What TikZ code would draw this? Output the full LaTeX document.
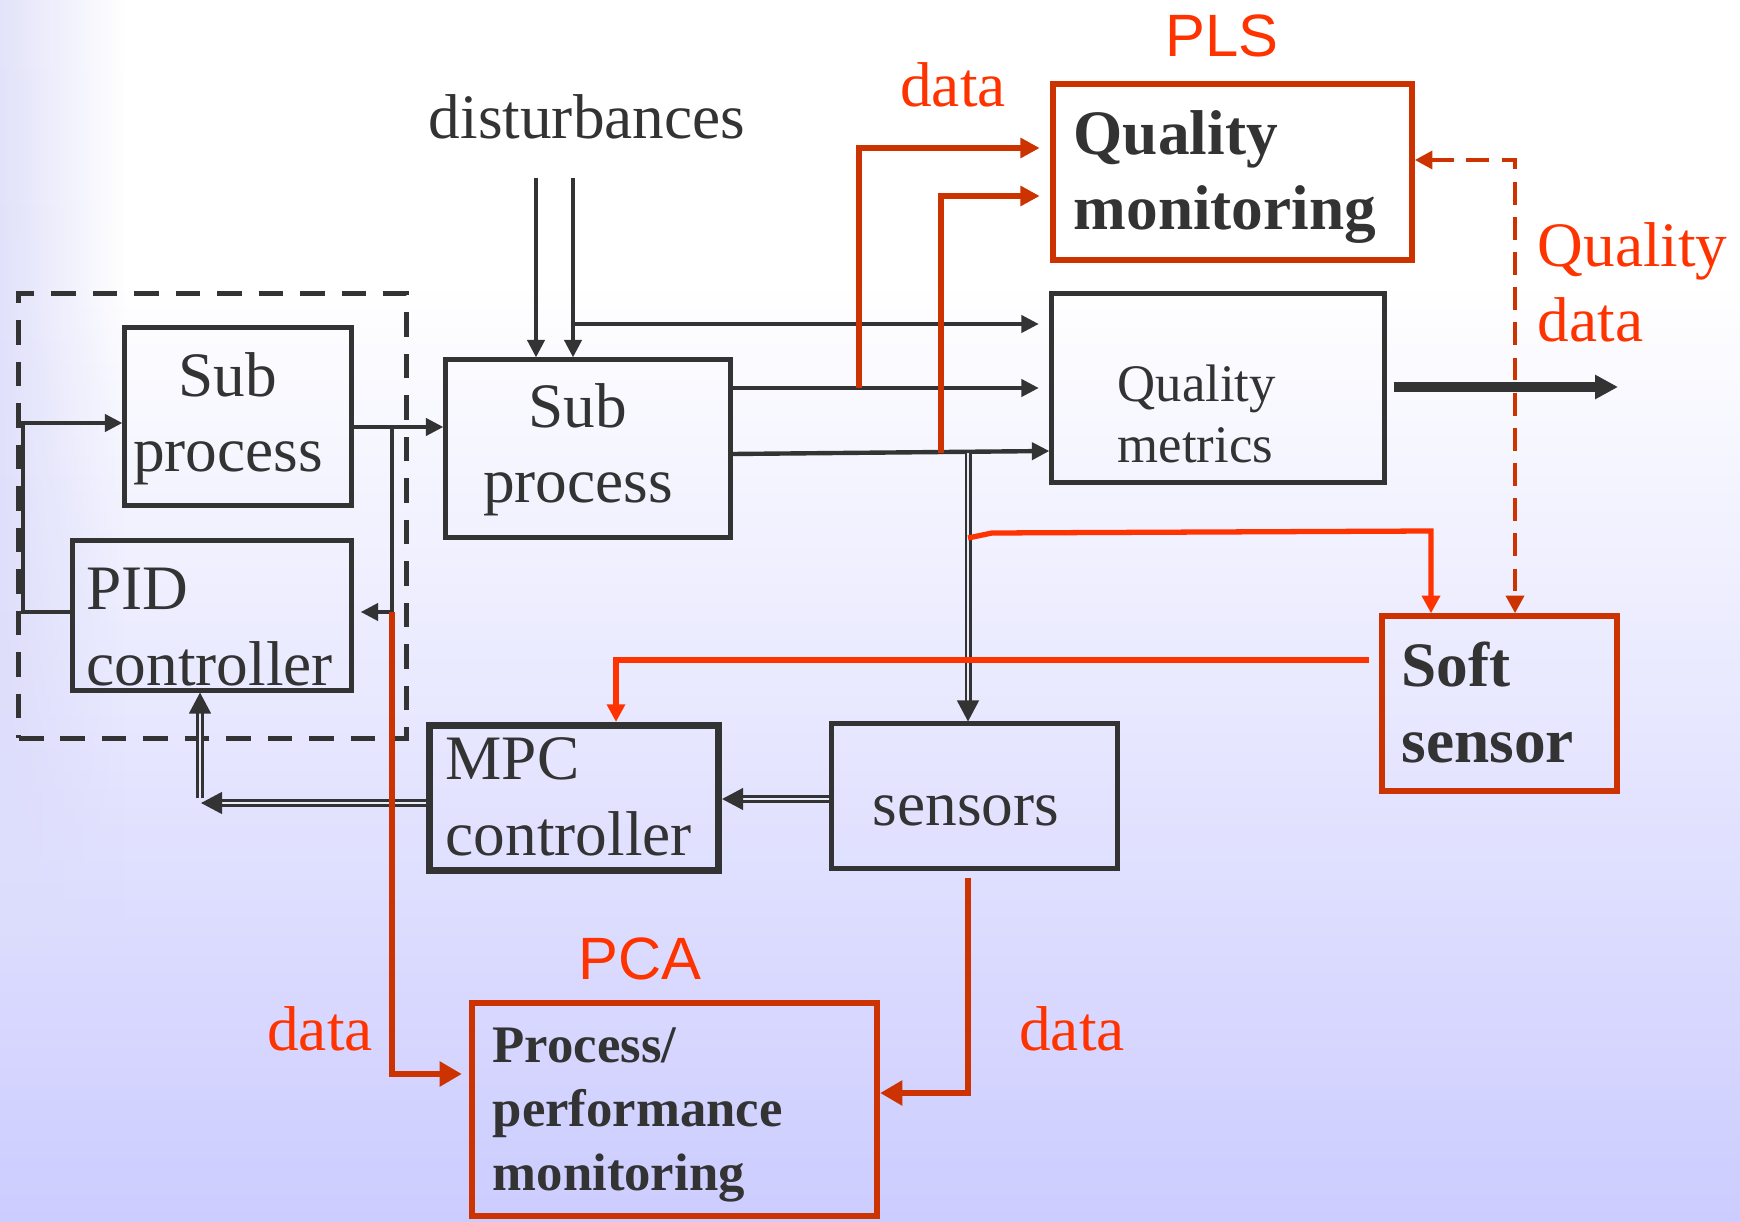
\documentclass[tikz,border=0pt]{standalone}
\usepackage{fontspec}
\setmainfont{Liberation Serif}
\newfontfamily\labelsans{Liberation Sans}
\usetikzlibrary{arrows.meta,fadings}

\definecolor{inkgray}{HTML}{333333}
\definecolor{boxred}{HTML}{CC3300}
\definecolor{labelred}{HTML}{FF3300}
\definecolor{bgbottom}{HTML}{CCCCFF}
\definecolor{bgleft}{HTML}{E3E3FA}
\definecolor{bgleftlow}{HTML}{DCDCFC}
\definecolor{dblfill}{HTML}{EBEBFE}

\tikzfading[name=fade to right, left color=transparent!0, right color=transparent!100]

\tikzset{
  blk/.style={draw=inkgray, line width=1.4pt, inner sep=0pt},
  redblk/.style={draw=boxred, line width=1.5pt, inner sep=0pt},
  txt/.style={inner sep=0pt, text=inkgray, align=left, anchor=base west,
    font=\fontsize{18}{21.6}\selectfont},
  redtxt/.style={inner sep=0pt, text=labelred, align=left, anchor=base,
    font=\fontsize{18}{21.6}\selectfont},
  wire/.style={draw=inkgray, line width=1.25pt, -{Triangle[length=5pt,width=4.8pt]}},
  dblwire/.style={draw=inkgray, line width=0.6pt, double=dblfill, double distance=0.8pt,
    -{Triangle[length=6pt,width=6.2pt]}},
  datawire/.style={draw=boxred, line width=1.6pt, -{Triangle[length=5.5pt,width=5.5pt]}},
  softwire/.style={draw=labelred, line width=1.5pt, -{Triangle[length=5pt,width=5pt]}}
}

\begin{document}
\begin{tikzpicture}[x=0.01cm, y=-0.01cm]
  % background
  \fill[white] (0,0) rectangle (1740,1222);
  \shade[top color=white, bottom color=bgbottom] (0,280) rectangle (1740,1222);
  \shade[top color=bgleft, bottom color=bgleftlow, path fading=fade to right] (0,0) rectangle (125,950);
  \useasboundingbox (0,0) rectangle (1740,1222);

  % boxes
  \node [draw=inkgray, line width=1.4pt, dash pattern=on 7pt off 4.8pt, inner sep=0pt,
    minimum width=3.87cm, minimum height=4.44cm] (Local_loop) at (212.5,516) {};
  \node [blk, minimum width=2.26cm, minimum height=1.77cm] (SubA_node) at (238,416.5) {};
  \node [blk, minimum width=2.78cm, minimum height=1.49cm] (PID_node) at (212,615.5) {};
  \node [blk, minimum width=2.84cm, minimum height=1.77cm] (SubB_node) at (588,448.5) {};
  \node [blk, minimum width=3.32cm, minimum height=1.88cm] (Metrics_node) at (1218,388) {};
  \node [blk, minimum width=2.85cm, minimum height=1.44cm] (Sensors_node) at (974.5,796) {};
  \node [blk, line width=1.7pt, minimum width=2.90cm, minimum height=1.46cm] (MPC_node) at (574,798) {};
  \draw [inkgray, line width=0.6pt] ([shift={(6,6)}]MPC_node.north west) rectangle ([shift={(-6,-6)}]MPC_node.south east);
  \node [redblk, minimum width=3.59cm, minimum height=1.76cm] (QMon_node) at (1232.5,172) {};
  \node [redblk, minimum width=2.35cm, minimum height=1.75cm] (Soft_node) at (1499.5,703.5) {};
  \node [redblk, line width=1.7pt, minimum width=4.05cm, minimum height=2.13cm] (PPM_node) at (674.5,1109.5) {};

  % texts (base = last line)
  \node [txt, anchor=base] (Dist_text) at (587,139) {disturbances};
  \node [txt, anchor=base, align=center] (SubA_text) at (228,472) {Sub\\process};
  \node [txt, anchor=base, align=center] (SubB_text) at (578,503) {Sub\\process};
  \node [txt] (PID_text) at (86,685) {PID\\controller};
  \node [txt] (MPC_text) at (445,855) {MPC\\controller};
  \node [txt] (Sensors_text) at (872,825) {sensors};
  \node [txt, font=\fontsize{15}{17.4}\selectfont] (Metrics_text) at (1117,463) {Quality\\metrics};
  \node [txt, font=\fontsize{18}{21.6}\selectfont\bfseries] (QMon_text) at (1073,230) {Quality\\monitoring};
  \node [txt, font=\fontsize{18}{21.4}\selectfont\bfseries] (Soft_text) at (1401,762) {Soft\\sensor};
  \node [txt, font=\fontsize{15}{18.2}\selectfont\bfseries] (PPM_text) at (492,1190) {Process/\\performance\\monitoring};

  \node [redtxt, font=\fontsize{17}{20}\labelsans] (PLS_label) at (1222,57) {PLS};
  \node [redtxt, font=\fontsize{17}{20}\labelsans] (PCA_label) at (640,979) {PCA};
  \node [redtxt] (Data_top) at (953,107) {data};
  \node [redtxt, anchor=base west] (Qdata_label) at (1537,342) {Quality\\data};
  \node [redtxt] (Data_left) at (320,1050) {data};
  \node [redtxt] (Data_right) at (1072,1050) {data};

  % free ends and taps
  \coordinate (Dist_a) at (536,178);
  \coordinate (Dist_b) at (573,178);
  \coordinate (Tap_A) at (392,427);
  \coordinate (Tap_PID) at (392,612);
  \coordinate (Feed_left) at (23,423);
  \coordinate (Tap_r1) at (859,388);
  \coordinate (Tap_r2) at (941,453);
  \coordinate (Tap_s) at (968,453);
  \coordinate (Out_a) at (1394,387);
  \coordinate (Out_b) at (1618,387);
  \coordinate (MPC_left) at (201,803);
  \coordinate (PID_feed) at (200,798);

  % process connectors
  \draw [wire] (Dist_a) -- (SubB_node.north -| Dist_a);
  \draw [wire] (Dist_b) -- (SubB_node.north -| Dist_b);
  \draw [wire, shorten >=3pt] (Dist_b |- 0,324) -- (Metrics_node.west |- 0,324);
  \draw [wire] (SubA_node.east |- Tap_A) -- (SubB_node.west |- Tap_A);
  \draw [wire, shorten >=2pt] (Tap_A) -- (Tap_PID) -- (PID_node.east |- Tap_PID);
  \draw [wire] (PID_node.west |- 0,612) -| (Feed_left) -- (SubA_node.west |- Feed_left);
  \draw [wire, shorten >=3pt] (SubB_node.east |- Tap_r1) -- (Metrics_node.west |- Tap_r1);
  \draw [wire] (SubB_node.east |- 0,454) -- (Metrics_node.west |- 0,451);
  \draw [wire, line width=2.6pt, -{Triangle[length=6.5pt,width=6.5pt]}] (Out_a) -- (Out_b);

  % measurement connectors
  \draw [dblwire] (Tap_s) -- (Sensors_node.north -| Tap_s);
  \draw [dblwire] (Sensors_node.west |- 0,799) -- (MPC_node.east |- 0,799);
  \draw [dblwire] (MPC_node.west |- MPC_left) -- (MPC_left);
  \draw [dblwire] (PID_feed) -- (PID_node.south -| PID_feed);

  % data connectors
  \draw [datawire, shorten >=3pt] (Tap_r1) |- (QMon_node.west |- 0,148);
  \draw [datawire, shorten >=3pt] (Tap_r2) |- (QMon_node.west |- 0,196);
  \draw [datawire, -{Triangle[length=6.3pt,width=6.8pt]}, shorten >=2pt] (Tap_PID) |- (PPM_node.west |- 0,1074);
  \draw [datawire, -{Triangle[length=6.3pt,width=6.8pt]}] ([yshift=-0.07cm]Sensors_node.south -| Tap_s) |- (PPM_node.east |- 0,1093);
  \draw [datawire, line width=1.4pt, {Triangle[length=5pt,width=5pt]}-{Triangle[length=5pt,width=5pt]}, dash pattern=on 6.5pt off 3.5pt]
    (QMon_node.east |- 0,160) -| (Soft_node.north -| 1515,0);
  \draw [softwire] (Tap_s |- 0,538) -- (992,533) -- (1431,531) -- (Soft_node.north -| 1431,0);
  \draw [softwire, shorten <=0.1cm] (Soft_node.west |- 0,660) -| (MPC_node.north -| 616,0);
\end{tikzpicture}
\end{document}
